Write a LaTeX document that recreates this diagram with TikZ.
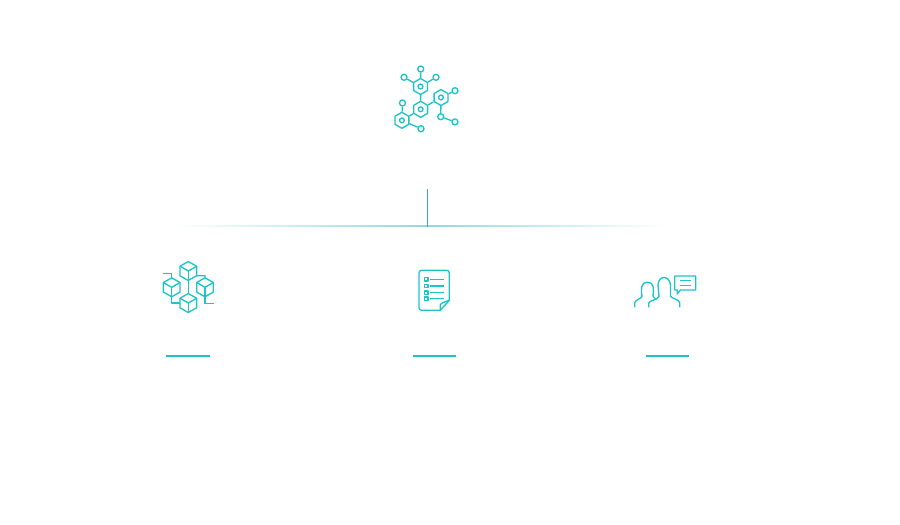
\documentclass[tikz,border=0pt]{standalone}
\usetikzlibrary{shapes.geometric}
\definecolor{icon}{HTML}{1CC4CA}
\definecolor{stem}{HTML}{3FA9B2}
\definecolor{rule}{HTML}{8FDADD}
\tikzset{
ln/.style={draw=icon, line width=1.35pt, line join=round},
hexnode/.style={ln, regular polygon, regular polygon sides=6, shape border rotate=30, minimum size=16pt, inner sep=0pt},
hole/.style={ln, circle, minimum size=4.8pt, inner sep=0pt},
dotnode/.style={ln, circle, minimum size=6pt, inner sep=0pt},
tick/.style={ln, fill=icon, rectangle, draw=none, minimum width=43.5pt, minimum height=2pt, inner sep=0pt},
cube/.pic={
  \draw[ln] (0,-9.5) -- (8.3,-4.75) -- (8.3,4.75) -- (0,9.5) -- (-8.3,4.75) -- (-8.3,-4.75) -- cycle;
  \draw[ln] (-8.3,-4.75) -- (0,0) -- (8.3,-4.75);
  \draw[ln] (0,0) -- (0,9.5);
  \coordinate (-top) at (0,-9.5);
  \coordinate (-bot) at (0,9.5);
  \coordinate (-lr) at (8.3,4.75);
  \coordinate (-w) at (-8.3,0);
  }
}
\begin{document}
\begin{tikzpicture}[x=1pt,y=-1pt]
\useasboundingbox (0,0) rectangle (900,525);
% network icon
\node[hexnode] (hexA) at (420.5,86.5) {};
\node[hexnode] (hexB) at (441,97.5) {};
\node[hexnode] (hexC) at (420.7,109.3) {};
\node[hexnode] (hexD) at (401.9,120.3) {};
\foreach \n in {hexA,hexB,hexC,hexD}
  \node[hole] at (\n) {};
\node[dotnode] (dotA) at (420.7,69) {};
\node[dotnode] (dotB) at (404,77.3) {};
\node[dotnode] (dotC) at (436,77.3) {};
\node[dotnode] (dotD) at (455,90.7) {};
\node[dotnode] (dotE) at (402.5,103) {};
\node[dotnode] (dotF) at (421,128.7) {};
\node[dotnode] (dotG) at (440.7,116.7) {};
\node[dotnode] (dotH) at (455,121.9) {};
\draw[ln] (hexA) -- (dotA);
\draw[ln] (hexA) -- (dotB);
\draw[ln] (hexA) -- (dotC);
\draw[ln] (hexA) -- (hexC);
\draw[ln] (hexC) -- (hexB);
\draw[ln] (hexC) -- (hexD);
\draw[ln] (hexB) -- (dotD);
\draw[ln] (hexB) -- (dotG);
\draw[ln] (dotG) -- (dotH);
\draw[ln] (hexD) -- (dotE);
\draw[ln] (hexD) -- (dotF);
% stem and fading rule
\coordinate (stemtop) at (427.5,189);
\coordinate (stemfoot) at (427.5,226.5);
\shade[left color=white, right color=rule] (175,225.5) rectangle (427.5,226.6);
\shade[left color=rule, right color=white] (427.5,225.5) rectangle (665,226.6);
\draw[stem, line width=1.6pt] (stemtop) -- (stemfoot);
% cubes
\pic (cubeA) at (188.3,271) {cube};
\pic (cubeB) at (171.7,287.3) {cube};
\pic (cubeC) at (205,287.3) {cube};
\pic (cubeD) at (188.3,303) {cube};
\draw[ln] (cubeA-bot) -- (cubeD-top);
\draw[ln] (cubeB-top) -- ++(0,-4) -- ++(-9,0);
\draw[ln] (cubeA-lr) -- (205,275.7) -- (cubeC-top);
\draw[ln] (cubeB-bot) |- (cubeD-w);
\draw[ln] (cubeC-bot) -- ++(0,7) -- ++(8.5,0);
% document
\draw[ln] (440.3,310.3) -- (421.5,310.3) arc[start angle=90, end angle=180, radius=2.5] -- (419,272.8)
  arc[start angle=180, end angle=270, radius=2.5] -- (446.8,270.3)
  arc[start angle=270, end angle=360, radius=2.5] -- (449.3,300.3) -- cycle;
\draw[ln] (440.3,310.3) -- (440.3,304.5) -- (443,302.5) -- (449.3,300.3);
\foreach \y in {279.3,286,292.7,298.7} {
  \draw[ln] (424.3,\y-1.7) rectangle (427.9,\y+1.7);
  \draw[ln] (429.5,\y) -- (443.5,\y);
}
% people
\draw[ln] (634.8,307.3) -- (634.8,302.5) .. controls (635.5,300) and (641,298.5) .. (642,296.3)
  .. controls (641,292) and (641.5,288) .. (642,286) .. controls (643,281) and (652,281) .. (653,286)
  .. controls (653.5,289) and (653.5,293) .. (653,296.3) -- (656.3,299.5);
\draw[ln] (648.8,307.3) -- (648.8,303) .. controls (649.5,300.5) and (658,299.5) .. (659,296.3)
  -- (658,285) .. controls (658.5,275) and (669.5,275) .. (670.5,285) -- (670.5,296.3)
  .. controls (672,298.5) and (679,299.5) .. (679.7,302.5) -- (679.7,307.3);
\draw[ln] (674.7,276) -- (695.7,276) -- (695.7,290) -- (680.5,290) -- (677.2,294) -- (677.2,290) -- (674.7,290) -- cycle;
\draw[ln] (679.7,280.7) -- (691.3,280.7);
\draw[ln] (679.7,285.7) -- (691.3,285.7);
% underlines
\node[tick] (tickA) at (188.2,355.6) {};
\node[tick] (tickB) at (434.7,356) {};
\node[tick] (tickC) at (667.4,356) {};
\end{tikzpicture}
\end{document}
